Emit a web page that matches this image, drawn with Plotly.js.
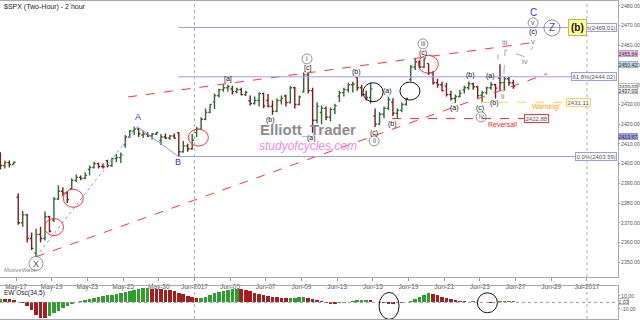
<!DOCTYPE html>
<html><head><meta charset="utf-8">
<script src="https://cdn.plot.ly/plotly-3.0.1.min.js"></script>
<style>html,body{margin:0;padding:0;background:#fff}#c{width:640px;height:320px}</style>
</head><body><div id="c"></div>
<script>
// ---- data ----
const days = ['May-16','May-17','May-18','May-19','May-22','May-23','May-24','May-25','May-26','May-30','May-31',
  'Jun-01','Jun-02','Jun-05','Jun-06','Jun-07','Jun-08','Jun-09','Jun-12','Jun-13','Jun-14','Jun-15','Jun-16',
  'Jun-19','Jun-20','Jun-21','Jun-22','Jun-23','Jun-26'];
const barsPerDay = 4;
const open = [
 2404.5,2399,2400.5,2399.5, 2383,2370,2374,2362, 2354.7,2364,2362,2373, 2371.4,2382,2386,2385,
 2387.2,2391.5,2393,2392.5, 2397,2398,2400,2398.5, 2401.4,2399,2402.5,2403, 2409.5,2413.5,2416.5,2417.5,
 2414.5,2415,2414,2415, 2411.7,2413.5,2413,2414, 2415.6,2406,2409,2407.5, 2415.7,2417.5,2422.5,2426,
 2431.3,2434.5,2437.5,2438.5, 2437.8,2436.5,2437.5,2435, 2431.9,2430.5,2432,2435.5, 2432,2429,2426.5,2432,
 2434.3,2431,2438.5,2430, 2436.4,2445,2437,2422, 2425.9,2428,2423.5,2427.5, 2434.2,2436,2437.5,2440,
 2443.7,2438.5,2435,2433.5, 2424.1,2420,2425,2428, 2431.2,2425.5,2427,2430, 2442.6,2449,2451.5,2449,
 2450.7,2446,2441,2440, 2439.3,2435,2433,2434, 2437.4,2438.5,2440.5,2439, 2434.7,2436,2438.5,2440,
 2443.3,2441,2443,2441];
const high = [
 2405.8,2401.5,2401.5,2401, 2384.9,2376,2374.5,2365, 2367,2368,2375.7,2373.5, 2383,2389,2388,2386,
 2392.5,2394.5,2394,2395.5, 2399,2400.9,2400.5,2400, 2402,2403,2405,2405.6, 2414.5,2417,2418.7,2418,
 2416.7,2416,2415.5,2416, 2415,2415.3,2414.5,2415.2, 2416,2411.5,2410,2415, 2418.5,2423.5,2428,2430.1,
 2435.5,2438,2440.2,2440, 2439.5,2438.5,2438.5,2437, 2434.5,2434,2436.2,2436, 2435.3,2432,2433,2434.5,
 2435,2439.3,2439,2434.5, 2446.2,2446,2438.5,2431, 2429.5,2429,2428.5,2430.4, 2437,2438.5,2441,2441.5,
 2443.8,2440,2437,2441, 2428,2426,2429,2433.9, 2433.2,2428,2431,2433.1, 2450,2453,2452.5,2453.8,
 2450.7,2447,2443,2441.5, 2441,2437,2435,2437.5, 2439.5,2441.6,2441,2439.5, 2437,2439,2441.4,2440.5,
 2450.4,2444,2444,2442.5];
const low = [
 2397,2397.5,2398,2399.5, 2369,2368,2360,2356.2, 2352.7,2360,2361,2365, 2370.4,2381.5,2383.5,2380,
 2386.9,2390.5,2391.5,2392, 2393.9,2397.5,2397.5,2397.5, 2398,2398.3,2400.8,2400.3, 2408,2413,2414.5,2413.5,
 2413,2413.5,2412.2,2414.5, 2409.4,2412.5,2412,2412.5, 2403.6,2405.5,2406,2407, 2413.5,2417,2422,2425.5,
 2427.7,2433.5,2436.5,2436.5, 2435,2435.5,2434.5,2434.3, 2429.5,2430,2429,2428.1, 2428.5,2424.8,2426,2430,
 2429,2430.5,2427.9,2429.5, 2436,2435.5,2415.7,2420.5, 2420,2422,2421.5,2425, 2431.3,2434,2436,2436,
 2437,2434,2432,2430.5, 2418.5,2419.5,2423,2427, 2424,2422.9,2426,2429.5, 2441.8,2447.5,2448.5,2448.5,
 2445,2440,2438.5,2436.6, 2434,2432,2430.7,2433.5, 2435.5,2437.5,2437.5,2433.3, 2431.1,2435,2437.5,2433,
 2437,2437,2439.5,2438];
const close = [
 2399,2400.5,2399.5,2400.7, 2370,2374,2362,2357, 2364,2362,2373,2365.7, 2382,2386,2385,2381.7,
 2391.5,2393,2392.5,2394, 2398,2400,2398.5,2398.4, 2399,2402.5,2403,2404.4, 2413.5,2416.5,2417.5,2415.1,
 2415,2414,2415,2415.8, 2413.5,2413,2414,2412.9, 2406,2409,2407.5,2411.8, 2417.5,2422.5,2426,2430.06,
 2434.5,2437.5,2438.5,2439.1, 2436.5,2437.5,2435,2436.1, 2430.5,2432,2435.5,2429.3, 2429,2426.5,2432,2433.1,
 2431,2438.5,2430,2433.8, 2445,2437,2422,2429, 2428,2423.5,2427.5,2429.4, 2436,2437.5,2440,2440.4,
 2438.5,2435,2433.5,2437.9, 2420,2425,2428,2432.5, 2425.5,2427,2430,2433.1, 2449,2451.5,2449,2453.5,
 2446,2441,2440,2437, 2435,2433,2434,2435.6, 2438.5,2440.5,2439,2434.5, 2436,2438.5,2440,2438.3,
 2441,2443,2441,2439.07];
const ewOsc = [
 5.4,5,4.5,3, 0.5,-1.5,-6,-12, -19,-23.5,-24,-21.5, -17,-13,-9,-5, -2,0,2,4, 5.5,6.8,8,9.5,
 11,12,13,14, 15.5,17,18.5,20, 21.8,22,21.3,21, 20,19.5,18.5,17, 15,12.5,10,8, 6,7,8.5,11,
 14,16,18,19.7, 20.5,21,20.5,18.7, 17,15,13,11.5, 10,9,8,7.4, 7,7.1,7.3,7.8, 8.2,6.5,4.5,3.6,
 2.5,-1,-2.5,-3, -1.5,-0.5,0.5,2.5, 3,3.5,3.6,3, 1,0,-1,-2, -3,-1.5,-1,0, 2,5,8.5,12,
 14,13,11,9, 7.4,5.4,3.8,2.5, 1.5,1,1.5,1, 0,0.3,-0.5,0.5, 1.5,2,2,2];
const tickDays = [0,2,4,6,8,10,12,14,16,18,20,22,24,26,28,30,32];
const tickText = ['May-17','May-19','May-23','May-25','May-30','Jun-2017','Jun-05','Jun-07','Jun-09','Jun-13','Jun-15','Jun-19','Jun-21','Jun-23','Jun-27','Jun-29','Jul-2017'];
// wave-count anchor points (day index, price)
const xaPath = {x:[1.12, 6.8], y:[2352.72, 2418.71]};
const abPath = {x:[6.8, 9.1], y:[2418.71, 2403.59]};
const upperChannel = {x:[6.28, 28.81], y:[2433.8, 2461.2]};
const lowerChannel = {x:[1.12, 29.76], y:[2352.7, 2445.5]};
const projPath = {x:[27.30, 27.41, 28.53, 28.98], y:[2436.3, 2457.7, 2454.1, 2459.2]};
const fibLevels = [2469.01, 2444.02, 2403.59];
const fibNames = ['100.0%(2469.01)','61.8%(2444.02)','0.0%(2403.59)'];
const warningLevel = 2431.11, reversalLevel = 2422.88;

// ---- build ----
const xs = [];
for (let i = 0; i < open.length; i++) {
  const d = Math.floor(i / barsPerDay) - 1, s = i % barsPerDay;
  xs.push(d + (s + 0.5) / barsPerDay);
}
const oscColors = ewOsc.map((v,i)=> (i===0 || v >= ewOsc[i-1]) ? '#2f9e2f' : '#a11f1f');

const XR = [-0.897, 33.74], YR = [2342.4, 2482.5], Y2R = [-25.7, 25.1];
const kx = 618 / (XR[1]-XR[0]), ky = 276 / (YR[1]-YR[0]);
const F = 'Liberation Sans, Arial, sans-serif';

const traces = [
  {type:'ohlc', x:xs, open:open, high:high, low:low, close:close, xaxis:'x', yaxis:'y',
   increasing:{line:{color:'#2d6a2d', width:1.4}}, decreasing:{line:{color:'#7a1d1d', width:1.4}},
   tickwidth:0.4, hoverinfo:'skip'},
  {type:'scatter', mode:'lines', x:xaPath.x, y:xaPath.y, line:{color:'#8f8fff', width:1, dash:'dot'}, xaxis:'x', yaxis:'y', hoverinfo:'skip'},
  {type:'scatter', mode:'lines', x:abPath.x, y:abPath.y, line:{color:'#8f8fff', width:1}, xaxis:'x', yaxis:'y', hoverinfo:'skip'},
  {type:'scatter', mode:'lines', x:upperChannel.x, y:upperChannel.y, line:{color:'#ff3333', width:1, dash:'dash'}, xaxis:'x', yaxis:'y', hoverinfo:'skip'},
  {type:'scatter', mode:'lines', x:lowerChannel.x, y:lowerChannel.y, line:{color:'#ff3333', width:1, dash:'dash'}, xaxis:'x', yaxis:'y', hoverinfo:'skip'},
  {type:'scatter', mode:'lines', x:projPath.x, y:projPath.y, line:{color:'#aaaaaa', width:1, dash:'dash'}, xaxis:'x', yaxis:'y', hoverinfo:'skip'},
  {type:'bar', x:xs, y:ewOsc, marker:{color:oscColors, line:{width:0}}, width:0.2, xaxis:'x2', yaxis:'y2', hoverinfo:'skip'}
];

const shapes = [];
const annotations = [];
function lab(x,y,text,o){ annotations.push(Object.assign({x:x,y:y,xref:'x',yref:'y',text:text,showarrow:false,
  font:{family:F,size:7,color:'#111'}}, o||{})); }
function ring(x,y,r,color,xr,yr,w){ const kyy = (yr==='y2') ? (33/(Y2R[1]-Y2R[0])) : ky;
  shapes.push({type:'circle', xref:xr||'x', yref:yr||'y', x0:x-r[0]/kx, x1:x+r[0]/kx, y0:y-r[1]/kyy, y1:y+r[1]/kyy,
  line:{color:color, width:w||1}}); }
function circLab(x,y,text,r,size){ ring(x,y,[r,r],'#777','x','y',0.8); lab(x,y,text,{font:{family:F,size:size||7,color:'#555'}}); }

// fib lines
fibLevels.forEach((lv,i)=>{
  shapes.push({type:'line', xref:'x', yref:'y', x0:9.1, x1:31.45, y0:lv, y1:lv, line:{color:'#9a9aff', width:1}});
  annotations.push({x:33.7, y:lv, xref:'x', yref:'y', xanchor:'right', text:fibNames[i], showarrow:false,
    font:{family:F,size:6,color:'#555'}, bgcolor:'#fff', bordercolor:'#9a9aff', borderwidth:1, borderpad:0.5});
});
// warning / reversal
shapes.push({type:'line', xref:'x', yref:'y', x0:26.07, x1:30.83, y0:warningLevel, y1:warningLevel, line:{color:'#ffd34d', width:1.2, dash:'dash'}});
annotations.push({x:30.83, y:warningLevel, xref:'x', yref:'y', xanchor:'left', text:warningLevel.toFixed(2), showarrow:false,
  font:{family:F,size:6,color:'#555'}, bgcolor:'#fff', bordercolor:'#ffd34d', borderwidth:1, borderpad:0.5});
lab(29.71, 2428.6, 'Warning!', {font:{family:F,size:7,color:'#ff9900'}});
shapes.push({type:'line', xref:'x', yref:'y', x0:21.08, x1:28.48, y0:reversalLevel, y1:reversalLevel, line:{color:'#ff3333', width:1.2, dash:'dash'}});
annotations.push({x:28.48, y:reversalLevel, xref:'x', yref:'y', xanchor:'left', text:reversalLevel.toFixed(2), showarrow:false,
  font:{family:F,size:6,color:'#555'}, bgcolor:'#fff', bordercolor:'#ff3333', borderwidth:1, borderpad:0.5});
lab(27.30, 2420.0, 'Reversal!', {font:{family:F,size:7,color:'#ff2222'}});

// month separators
[10, 32].forEach(d=>{
  shapes.push({type:'line', xref:'x', yref:'y', x0:d, x1:d, y0:YR[0], y1:YR[1], line:{color:'#aaaaaa', width:1, dash:'dot'}});
  shapes.push({type:'line', xref:'x2', yref:'y2', x0:d, x1:d, y0:Y2R[0], y1:Y2R[1], line:{color:'#aaaaaa', width:1, dash:'dot'}});
});
shapes.push({type:'line', xref:'x2', yref:'y2', x0:XR[0], x1:XR[1], y0:0, y1:0, line:{color:'#999', width:1, dash:'dot'}});

// circles
ring(2.13, 2367.8, [9.5,8.5], '#ff3333');
ring(3.21, 2382.4, [10,9], '#ff3333');
ring(10.22, 2413.2, [10,8.5], '#ff3333');
ring(23.11, 2450.4, [10,9], '#ff3333');
ring(20.01, 2436.2, [10,9.5], '#111');
ring(22.08, 2436.8, [10,9], '#111');
ring(20.91, -5.5, [10,13.5], '#111', 'x2', 'y2');
ring(26.42, -0.6, [10,10], '#111', 'x2', 'y2');

// wave labels
lab(6.84, 2423.6, 'A', {font:{family:F,size:9,color:'#3333ff'}});
lab(9.08, 2400.8, 'B', {font:{family:F,size:9,color:'#3333ff'}});
lab(28.98, 2476.4, 'C', {font:{family:F,size:10,color:'#3333ff'}});
circLab(28.98, 2471.4, 'v', 5);
lab(28.98, 2466.8, '(c)');
lab(28.98, 2461.7, 'v', {font:{family:F,size:8,color:'#888'}});
lab(27.41, 2461.2, 'iii', {font:{family:F,size:8,color:'#888'}});
lab(28.53, 2451.6, 'iv', {font:{family:F,size:8,color:'#888'}});
lab(27.02, 2454.1, 'i', {font:{family:F,size:8,color:'#888'}});
lab(27.30, 2433.8, 'ii', {font:{family:F,size:8,color:'#888'}});
circLab(16.31, 2453.1, 'i', 5);
lab(16.31, 2448.5, '[c]');
lab(11.88, 2442.9, '[a]');
lab(14.29, 2422.1, '(b)');
lab(16.54, 2413.0, '(a)');
lab(19.06, 2446.5, '(b)');
lab(20.07, 2415.5, '(c)');
circLab(20.07, 2411.5, 'ii', 5, 6.5);
lab(20.80, 2436.9, '(a)');
lab(21.08, 2420.1, '(b)');
circLab(22.81, 2460.7, 'iii', 5, 6.5);
lab(22.81, 2456.1, '(c)');
lab(24.55, 2428.2, '(a)');
lab(25.50, 2445.0, '(b)');
lab(26.57, 2444.5, '(a)');
lab(26.01, 2428.2, '(c)');
circLab(26.07, 2423.7, 'iv', 5, 6.5);
lab(26.79, 2430.8, '(b)');
circLab(1.12, 2349.3, 'X', 7, 9);
circLab(30.04, 2468.8, 'Z', 8, 10);
annotations.push({x:30.94, y:2468.8, xref:'x', yref:'y', xanchor:'left', text:'<b>(b)</b>', showarrow:false,
  font:{family:F,size:10,color:'#111'}, bgcolor:'#ffff99', bordercolor:'#bbbb66', borderwidth:1, borderpad:2});

// watermark & titles
lab(16.37, 2417.1, '<b>Elliott_Trader</b>', {font:{family:F,size:15,color:'#8c8c8c'}});
lab(16.37, 2409.0, '<i>studyofcycles.com</i>', {font:{family:F,size:12,color:'#ee88ee'}});
annotations.push({x:0.004, y:0.997, xref:'paper', yref:'paper', xanchor:'left', yanchor:'top', text:'$SPX (Two-Hour) - 2 hour',
  showarrow:false, font:{family:F,size:7,color:'#222'}});
annotations.push({x:0.004, y:0.142, xref:'paper', yref:'paper', xanchor:'left', yanchor:'bottom', text:'MotiveWave',
  showarrow:false, font:{family:F,size:6,color:'#888'}});
annotations.push({x:0.004, y:0.102, xref:'paper', yref:'paper', xanchor:'left', yanchor:'top', text:'EW Osc(34,5)',
  showarrow:false, font:{family:F,size:6.5,color:'#222'}});

// right axis value tags
const tags = [[2455.64,'#f0b8ec'],[2450.42,'#b8d8f0'],[2439.07,'#ffffff'],[2437.03,'#eeeeee'],[2413.67,'#9a9aee']];
tags.forEach(t=>annotations.push({x:1, y:t[0], xref:'paper', yref:'y', xanchor:'left', text:t[0].toFixed(2), showarrow:false,
  font:{family:F,size:5.2,color:'#333'}, bgcolor:t[1], bordercolor:'#888', borderwidth:0.5, borderpad:0}));
annotations.push({x:1, y:1.03, xref:'paper', yref:'y2', xanchor:'left', text:'1.03', showarrow:false,
  font:{family:F,size:5.2,color:'#333'}, bgcolor:'#fff', bordercolor:'#888', borderwidth:0.5, borderpad:0});

const axCommon = {showgrid:false, zeroline:false, showline:true, linecolor:'#aaaaaa', linewidth:1, mirror:true};
const layout = {
  width:640, height:320, margin:{l:0, r:22, t:0, b:0},
  paper_bgcolor:'#fff', plot_bgcolor:'#fff', showlegend:false, bargap:0,
  xaxis:Object.assign({domain:[0,1], range:XR, anchor:'y', side:'bottom', tickvals:tickDays, ticktext:tickText, ticks:'outside', ticklen:3,
    tickcolor:'#999', tickfont:{family:F,size:6.5,color:'#555'}, rangeslider:{visible:false}}, axCommon),
  yaxis:Object.assign({domain:[0.134,0.997], range:YR, anchor:'x', side:'right', dtick:10, tickformat:'.2f', ticks:'outside', ticklen:1,
    tickcolor:'#999', tickfont:{family:F,size:5.2,color:'#555'}}, axCommon),
  xaxis2:Object.assign({domain:[0,1], range:XR, anchor:'y2', showticklabels:false, ticks:''}, axCommon),
  yaxis2:Object.assign({domain:[0.003,0.106], range:Y2R, anchor:'x2', side:'right', tickvals:[10,-10], ticktext:['10.00','-10.00'],
    ticks:'outside', ticklen:1, tickcolor:'#999', tickfont:{family:F,size:5.2,color:'#555'}}, axCommon),
  shapes:shapes, annotations:annotations
};
Plotly.newPlot('c', traces, layout, {staticPlot:true, displayModeBar:false});
</script></body></html>
